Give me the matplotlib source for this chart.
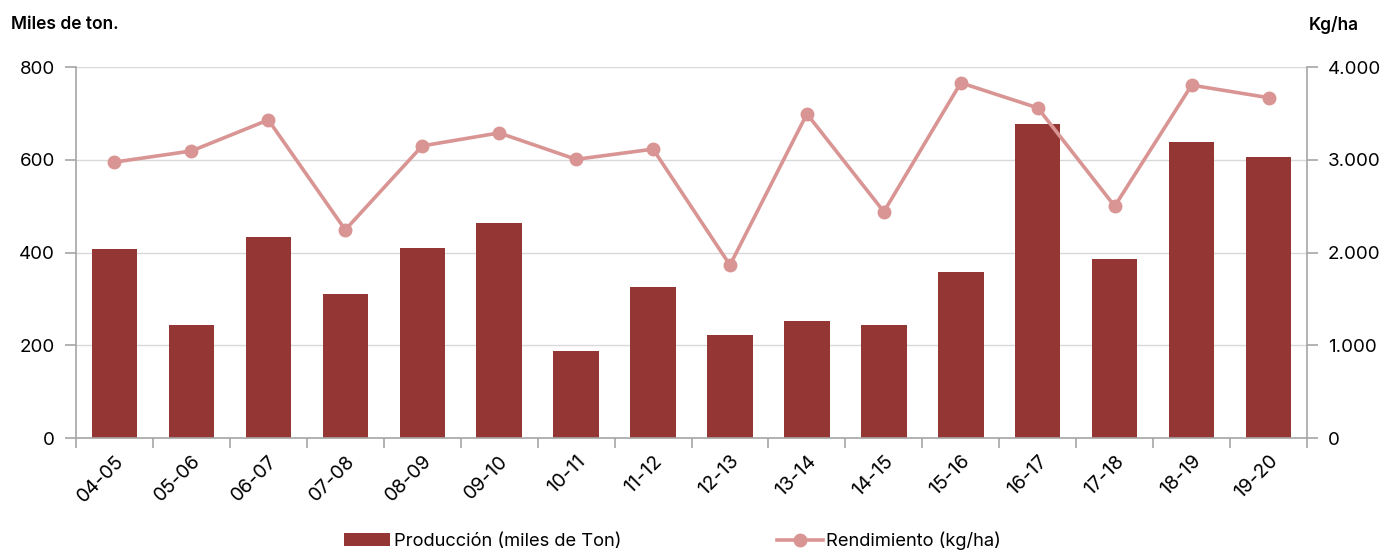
import numpy as np
import matplotlib.pyplot as plt
from matplotlib.ticker import FuncFormatter, FixedLocator

# ---- data ----
campanas = ["04-05", "05-06", "06-07", "07-08", "08-09", "09-10", "10-11", "11-12",
            "12-13", "13-14", "14-15", "15-16", "16-17", "17-18", "18-19", "19-20"]
produccion = [407, 243, 433, 310, 410, 463, 187, 325,
              222, 252, 244, 357, 678, 386, 638, 606]
rendimiento = [2975, 3095, 3430, 2245, 3150, 3290, 3005, 3115,
               1865, 3495, 2440, 3830, 3560, 2500, 3805, 3670]

BAR_COLOR = "#943634"
LINE_COLOR = "#D99594"
AXIS_GREY = "#A6A6A6"

plt.rcParams['font.family'] = ['Inter', 'DejaVu Sans']

fig = plt.figure(figsize=(13.84, 5.52), dpi=100)
ax = fig.add_axes([0.0549, 0.2065, 0.8895, 0.672])
ax2 = ax.twinx()

x = np.arange(len(campanas))
ax.bar(x, produccion, width=0.59, color=BAR_COLOR, zorder=2,
       label="Producción (miles de Ton)")
ax2.plot(x, rendimiento, color=LINE_COLOR, lw=2.6, marker="o", markersize=9,
         zorder=3, label="Rendimiento (kg/ha)")

ax.set_xlim(-0.5, len(campanas) - 0.5)
ax.set_ylim(0, 800)
ax2.set_ylim(0, 4000)
ax.set_yticks([0, 200, 400, 600, 800])
ax2.set_yticks([0, 1000, 2000, 3000, 4000])
ax2.yaxis.set_major_formatter(FuncFormatter(lambda v, p: f"{int(v):,}".replace(",", ".")))

ax.grid(axis="y", color="#D9D9D9", lw=1, zorder=0)
ax.set_axisbelow(True)

# x ticks: labels at centres, tick marks on category boundaries
ax.set_xticks(x)
ax.set_xticklabels(campanas, rotation=45, ha="right", rotation_mode="anchor", fontsize=14)
ax.tick_params(axis="x", which="major", length=0, pad=10)
ax.xaxis.set_minor_locator(FixedLocator(np.arange(-0.5, len(campanas), 1.0)))
ax.tick_params(axis="x", which="minor", length=7, color=AXIS_GREY, width=1.2)

for a in (ax, ax2):
    a.spines["top"].set_visible(False)
    a.tick_params(axis="y", length=8, color=AXIS_GREY, width=1.2, labelsize=13.5, pad=7)
ax.spines["right"].set_visible(False)
ax2.spines["left"].set_visible(False)
ax2.spines["bottom"].set_visible(False)
for s in ("left", "bottom"):
    ax.spines[s].set_color(AXIS_GREY)
    ax.spines[s].set_linewidth(1.2)
ax2.spines["right"].set_color(AXIS_GREY)
ax2.spines["right"].set_linewidth(1.2)

fig.text(0.008, 0.955, "Miles de ton.", fontsize=12.5, fontweight="semibold", ha="left", va="center")
fig.text(0.982, 0.955, "Kg/ha", fontsize=12.5, fontweight="semibold", ha="right", va="center")

h1, l1 = ax.get_legend_handles_labels()
h2, l2 = ax2.get_legend_handles_labels()
fig.legend(h1 + h2, l1 + l2, loc="center", bbox_to_anchor=(0.486, 0.02), ncol=2,
           frameon=False, fontsize=13.2, columnspacing=8.5, handlelength=2.5, handletextpad=0.2)

fig.savefig("out.png", dpi=100)
